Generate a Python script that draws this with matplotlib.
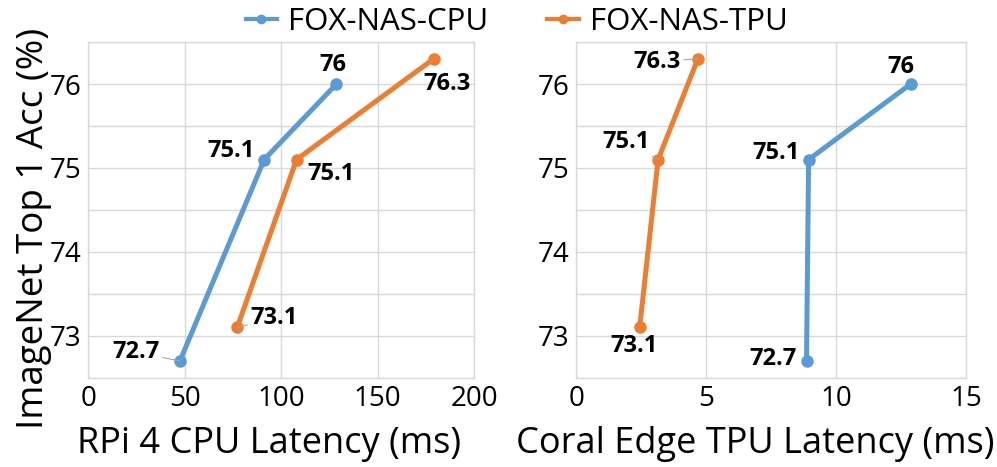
import matplotlib
matplotlib.use("Agg")
import matplotlib.pyplot as plt
from matplotlib.lines import Line2D

plt.rcParams['font.family'] = ['Open Sans', 'DejaVu Sans']

acc_cpu_model = [72.7, 75.1, 76.0]
acc_tpu_model = [73.1, 75.1, 76.3]
cpu_lat_cpu_model = [47.5, 91.2, 128.7]
cpu_lat_tpu_model = [77.2, 108.0, 179.1]
tpu_lat_cpu_model = [8.86, 8.94, 12.87]
tpu_lat_tpu_model = [2.44, 3.15, 4.68]
labels_cpu_model = ["72.7", "75.1", "76"]
labels_tpu_model = ["73.1", "75.1", "76.3"]
series_names = ["FOX-NAS-CPU", "FOX-NAS-TPU"]

BLUE = "#5B9BD5"
ORANGE = "#ED7D31"

fig = plt.figure(figsize=(9.97, 4.67), dpi=100)
ax1 = fig.add_axes([0.0886, 0.191, 0.3868, 0.719])
ax2 = fig.add_axes([0.578, 0.191, 0.391, 0.719])

lw = 3.6
ms = 8

ax1.plot(cpu_lat_cpu_model, acc_cpu_model, '-o', color=BLUE, lw=lw, ms=ms, zorder=3)
ax1.plot(cpu_lat_tpu_model, acc_tpu_model, '-o', color=ORANGE, lw=lw, ms=ms, zorder=3)
ax2.plot(tpu_lat_cpu_model, acc_cpu_model, '-o', color=BLUE, lw=lw, ms=ms, zorder=3)
ax2.plot(tpu_lat_tpu_model, acc_tpu_model, '-o', color=ORANGE, lw=lw, ms=ms, zorder=3)

ax1.set_xlim(0, 200)
ax1.set_xticks([0, 50, 100, 150, 200])
ax2.set_xlim(0, 15)
ax2.set_xticks([0, 5, 10, 15])
for ax in (ax1, ax2):
    ax.set_ylim(72.5, 76.5)
    ax.set_yticks([73, 74, 75, 76])
    ax.set_yticks([72.5, 73.5, 74.5, 75.5, 76.5], minor=True)
    ax.grid(True, which='both', color='#D9D9D9', lw=1.0)
    ax.set_axisbelow(True)
    for s in ax.spines.values():
        s.set_color('#D9D9D9')
        s.set_linewidth(1.0)
    ax.tick_params(which='both', length=0, labelsize=20, pad=5)

ax1.set_xlabel("RPi 4 CPU Latency (ms)", fontsize=26, va='baseline')
ax2.set_xlabel("Coral Edge TPU Latency (ms)", fontsize=26, va='baseline')
ax1.xaxis.set_label_coords(0.468, -0.223)
ax2.xaxis.set_label_coords(0.458, -0.223)
ax1.set_ylabel("ImageNet Top 1 Acc (%)", fontsize=26.5, va='baseline')
ax1.yaxis.set_label_coords(-0.117, 0.446)

def ann(ax, x, y, text, dx, dy, ha, leader=False):
    kw = {}
    if leader:
        kw['arrowprops'] = dict(arrowstyle='-', color='#A6A6A6', lw=0.8, shrinkA=0, shrinkB=0)
    ax.annotate(text, (x, y), xytext=(dx, dy), textcoords='offset pixels',
                ha=ha, va='center', fontsize=17, fontweight='bold', zorder=4, **kw)

# left panel
cpu_off_left = [(-20, 9, 'right', True), (-9, 9, 'right', False), (-4, 19, 'center', False)]
tpu_off_left = [(13, 9, 'left', True), (11, -14, 'left', False), (13, -25, 'center', False)]
for x, y, t, (dx, dy, ha, ld) in zip(cpu_lat_cpu_model, acc_cpu_model, labels_cpu_model, cpu_off_left):
    ann(ax1, x, y, t, dx, dy, ha, ld)
for x, y, t, (dx, dy, ha, ld) in zip(cpu_lat_tpu_model, acc_tpu_model, labels_tpu_model, tpu_off_left):
    ann(ax1, x, y, t, dx, dy, ha, ld)

# right panel
cpu_off_right = [(-10, 2, 'right', False), (-9, 7, 'right', False), (-10, 17, 'center', False)]
tpu_off_right = [(-6, -19, 'center', False), (-8, 18, 'right', True), (-17, -3, 'right', True)]
for x, y, t, (dx, dy, ha, ld) in zip(tpu_lat_cpu_model, acc_cpu_model, labels_cpu_model, cpu_off_right):
    ann(ax2, x, y, t, dx, dy, ha, ld)
for x, y, t, (dx, dy, ha, ld) in zip(tpu_lat_tpu_model, acc_tpu_model, labels_tpu_model, tpu_off_right):
    ann(ax2, x, y, t, dx, dy, ha, ld)

handles = [Line2D([], [], color=c, lw=3, marker='o', ms=6) for c in (BLUE, ORANGE)]
fig.legend(handles=handles, labels=series_names, loc='upper center', bbox_to_anchor=(0.518, 1.045), ncol=2,
           frameon=False, fontsize=22.5, handlelength=1.0, columnspacing=1.9, handletextpad=0.35)

fig.savefig("out.png", dpi=100)
